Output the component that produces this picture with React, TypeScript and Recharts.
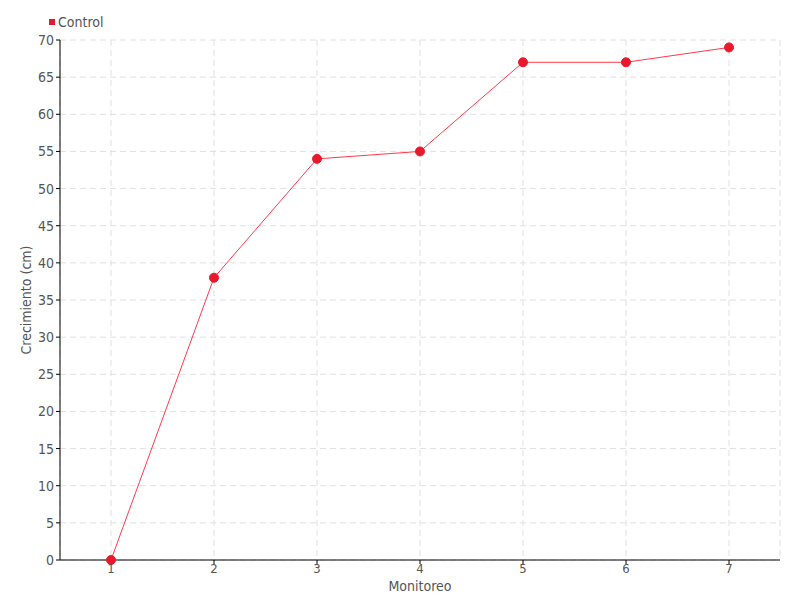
import { CartesianGrid, Legend, Line, LineChart, XAxis, YAxis } from 'recharts';

const monitoreo = ['1', '2', '3', '4', '5', '6', '7'];
const control = [0, 38, 54, 55, 67, 67, 69];
const yTicks = [0, 5, 10, 15, 20, 25, 30, 35, 40, 45, 50, 55, 60, 65, 70];

const FONT = '"Liberation Sans Narrow", "DejaVu Sans Condensed", "Roboto", sans-serif';
const RED = '#e8192c';

const data = monitoreo.map((m, i) => ({ monitoreo: m, control: control[i] }));

function LegendContent() {
  return (
    <div style={{ display: 'flex', alignItems: 'center', fontFamily: FONT, fontSize: 14, color: '#555' }}>
      <span style={{ width: 6, height: 6, background: RED, marginRight: 3, display: 'inline-block' }} />
      <span>Control</span>
    </div>
  );
}

export default function App() {
  return (
    <div style={{ position: 'absolute', left: 0, top: 0, background: '#fff' }}>
      <LineChart width={800} height={600} data={data} margin={{ top: 24, right: 20, bottom: 0, left: 0 }}>
        <CartesianGrid stroke="#e0e0e0" strokeDasharray="6 4" />
        <XAxis
          dataKey="monitoreo"
          padding={{ left: 51, right: 51 }}
          height={40}
          stroke="#000"
          tickSize={4}
          tickMargin={0}
          tick={{ fill: '#555', fontFamily: FONT, fontSize: 13 }}
          label={{ value: 'Monitoreo', position: 'insideBottom', offset: 9, fill: '#555', fontFamily: FONT, fontSize: 14 }}
        />
        <YAxis
          domain={[0, 70]}
          ticks={yTicks}
          width={60}
          stroke="#000"
          tickSize={4}
          interval={0}
          tick={{ fill: '#555', fontFamily: FONT, fontSize: 14 }}
          label={{ value: 'Crecimiento (cm)', angle: -90, position: 'insideLeft', offset: 26, fill: '#555', fontFamily: FONT, fontSize: 14, style: { textAnchor: 'middle' } }}
        />
        <Legend verticalAlign="top" align="left" content={<LegendContent />} wrapperStyle={{ top: 14, left: 49 }} />
        <Line
          type="linear"
          dataKey="control"
          name="Control"
          stroke="#ff3a4c"
          strokeWidth={1}
          dot={{ r: 4.5, fill: RED, stroke: RED, strokeWidth: 1 }}
          activeDot={false}
          isAnimationActive={false}
        />
      </LineChart>
    </div>
  );
}
